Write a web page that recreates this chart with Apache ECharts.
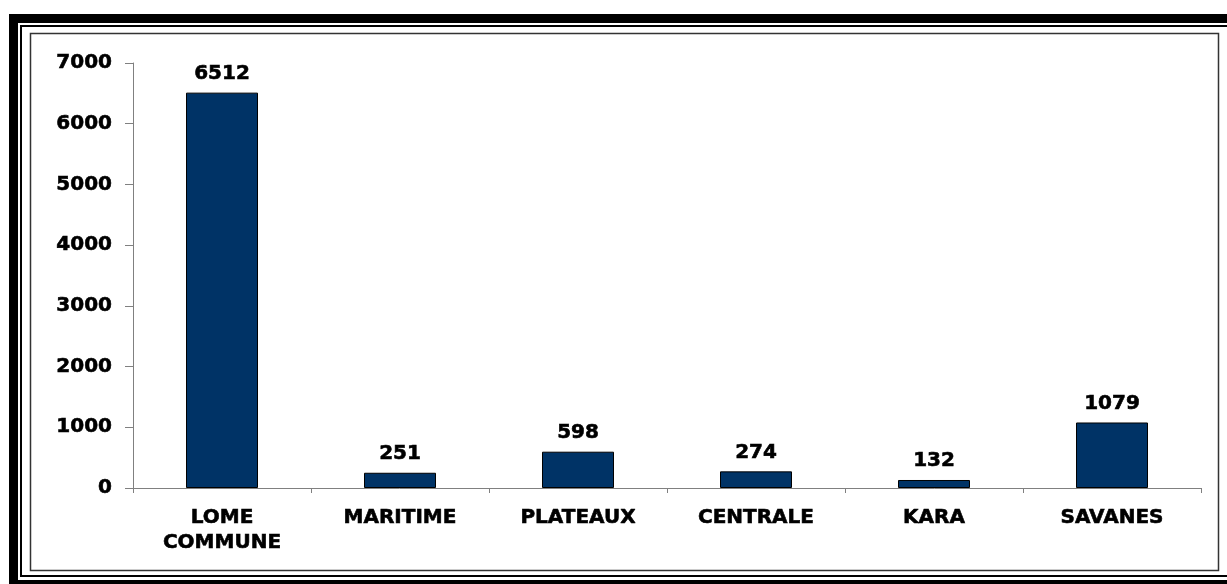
<!DOCTYPE html>
<html>
<head>
<meta charset="utf-8">
<script src="https://cdn.jsdelivr.net/npm/echarts@6/dist/echarts.min.js"></script>
<style>
  html, body { margin: 0; padding: 0; background: #fff; }
  #chart { width: 1227px; height: 584px; }
</style>
</head>
<body>
<div id="chart"></div>
<script>
// Regions and their counts
const regions = ['LOME\nCOMMUNE', 'MARITIME', 'PLATEAUX', 'CENTRALE', 'KARA', 'SAVANES'];
const counts = [6512, 251, 598, 274, 132, 1079];
const yTicks = [0, 1000, 2000, 3000, 4000, 5000, 6000, 7000];

const FONT = '"DejaVu Sans", "Liberation Sans", Arial, sans-serif';
// shared heavy black text style
const heavy = {
  color: '#000',
  fontFamily: FONT,
  fontWeight: 'bold',
  fontSize: 20,
  textBorderColor: '#000',
  textBorderWidth: 0.6
};

const chart = echarts.init(document.getElementById('chart'));

chart.setOption({
  backgroundColor: '#ffffff',
  animation: false,
  grid: { left: 133, right: 26, top: 63, bottom: 96, containLabel: false },
  xAxis: {
    type: 'category',
    data: regions,
    axisLine: { lineStyle: { color: '#808080', width: 1 } },
    axisTick: { show: true, length: 5, alignWithLabel: false, lineStyle: { color: '#808080' } },
    axisLabel: Object.assign({ interval: 0, margin: 17, lineHeight: 25 }, heavy)
  },
  yAxis: {
    type: 'value',
    min: yTicks[0],
    max: yTicks[yTicks.length - 1],
    interval: 1000,
    splitLine: { show: false },
    axisLine: { show: true, lineStyle: { color: '#808080', width: 1 } },
    axisTick: { show: true, length: 8, lineStyle: { color: '#808080' } },
    axisLabel: Object.assign({ margin: 21, formatter: v => String(v) }, heavy)
  },
  series: [{
    type: 'bar',
    data: counts,
    barWidth: 72,
    itemStyle: { color: '#003366', borderColor: '#000', borderWidth: 1 },
    label: Object.assign({ show: true, position: 'top', distance: 9 }, heavy)
  }],
  // Decorative double frame; its right side runs past the page edge
  graphic: [
    { type: 'rect', silent: true, z: 100,
      shape: { x: 13.5, y: 18.5, width: 1260, height: 566 },
      style: { fill: 'none', stroke: '#000', lineWidth: 9 } },
    { type: 'rect', silent: true, z: 100,
      shape: { x: 21, y: 26, width: 1240, height: 550 },
      style: { fill: 'none', stroke: '#000', lineWidth: 2 } },
    { type: 'rect', silent: true, z: 100,
      shape: { x: 30.5, y: 33.5, width: 1188, height: 537 },
      style: { fill: 'none', stroke: '#333', lineWidth: 1.5 } }
  ]
});
</script>
</body>
</html>
